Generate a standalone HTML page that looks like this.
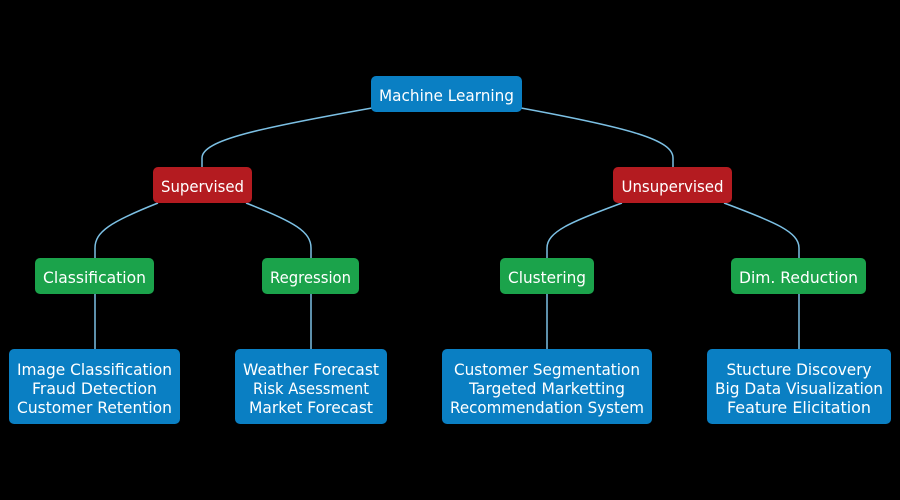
<!DOCTYPE html>
<html><head><meta charset="utf-8"><style>
html,body{margin:0;padding:0;background:#000;}
svg{display:block}
text{font-family:"DejaVu Sans","Liberation Sans",sans-serif;font-size:16px;fill:#fff;text-anchor:middle}
</style></head><body>
<svg width="900" height="500" viewBox="0 0 900 500" xmlns="http://www.w3.org/2000/svg">
<rect width="900" height="500" fill="#000"/>
<g fill="none" stroke="#7cc0e4" stroke-width="1.5">
<path d="M372,108 C260,128 202,140 202,158 L202,167"/>
<path d="M521,108 C630,128 673,140 673,158 L673,167"/>
<path d="M158,203 C110,222 95,232 95,248 L95,258"/>
<path d="M246,203 C295,222 311,232 311,248 L311,258"/>
<path d="M622,203 C570,222 547,232 547,248 L547,258"/>
<path d="M724,203 C775,222 799,232 799,248 L799,258"/>
<path d="M95,294 L95,349"/>
<path d="M311,294 L311,349"/>
<path d="M547,294 L547,349"/>
<path d="M799,294 L799,349"/>
</g>
<rect x="371" y="76" width="151" height="36" rx="5" fill="#0a7fc3"/>
<text x="446.5" y="101" textLength="135" lengthAdjust="spacingAndGlyphs">Machine Learning</text>
<rect x="153" y="167" width="99" height="36" rx="5" fill="#b41b20"/>
<text x="202.5" y="192" textLength="83" lengthAdjust="spacingAndGlyphs">Supervised</text>
<rect x="613" y="167" width="119" height="36" rx="5" fill="#b41b20"/>
<text x="672.5" y="192" textLength="102" lengthAdjust="spacingAndGlyphs">Unsupervised</text>
<g fill="#1ba34b">
<rect x="35" y="258" width="119" height="36" rx="5"/>
<rect x="262" y="258" width="97" height="36" rx="5"/>
<rect x="500" y="258" width="94" height="36" rx="5"/>
<rect x="731" y="258" width="135" height="36" rx="5"/>
</g>
<text x="94.5" y="283" textLength="103" lengthAdjust="spacingAndGlyphs">Classification</text>
<text x="310.5" y="283" textLength="81" lengthAdjust="spacingAndGlyphs">Regression</text>
<text x="547" y="283" textLength="78" lengthAdjust="spacingAndGlyphs">Clustering</text>
<text x="798.5" y="283" textLength="119" lengthAdjust="spacingAndGlyphs">Dim. Reduction</text>
<g fill="#0a7fc3">
<rect x="9" y="349" width="171" height="75" rx="5"/>
<rect x="235" y="349" width="152" height="75" rx="5"/>
<rect x="442" y="349" width="210" height="75" rx="5"/>
<rect x="707" y="349" width="184" height="75" rx="5"/>
</g>
<text x="94.5" y="375" textLength="155" lengthAdjust="spacingAndGlyphs">Image Classification</text>
<text x="94.5" y="394" textLength="125" lengthAdjust="spacingAndGlyphs">Fraud Detection</text>
<text x="94.5" y="413" textLength="155" lengthAdjust="spacingAndGlyphs">Customer Retention</text>
<text x="311" y="375" textLength="136" lengthAdjust="spacingAndGlyphs">Weather Forecast</text>
<text x="311" y="394" textLength="116" lengthAdjust="spacingAndGlyphs">Risk Asessment</text>
<text x="311" y="413" textLength="124" lengthAdjust="spacingAndGlyphs">Market Forecast</text>
<text x="547" y="375" textLength="186" lengthAdjust="spacingAndGlyphs">Customer Segmentation</text>
<text x="547" y="394" textLength="156" lengthAdjust="spacingAndGlyphs">Targeted Marketting</text>
<text x="547" y="413" textLength="194" lengthAdjust="spacingAndGlyphs">Recommendation System</text>
<text x="799" y="375" textLength="145" lengthAdjust="spacingAndGlyphs">Stucture Discovery</text>
<text x="799" y="394" textLength="168" lengthAdjust="spacingAndGlyphs">Big Data Visualization</text>
<text x="799" y="413" textLength="144" lengthAdjust="spacingAndGlyphs">Feature Elicitation</text>
</svg>
</body></html>
